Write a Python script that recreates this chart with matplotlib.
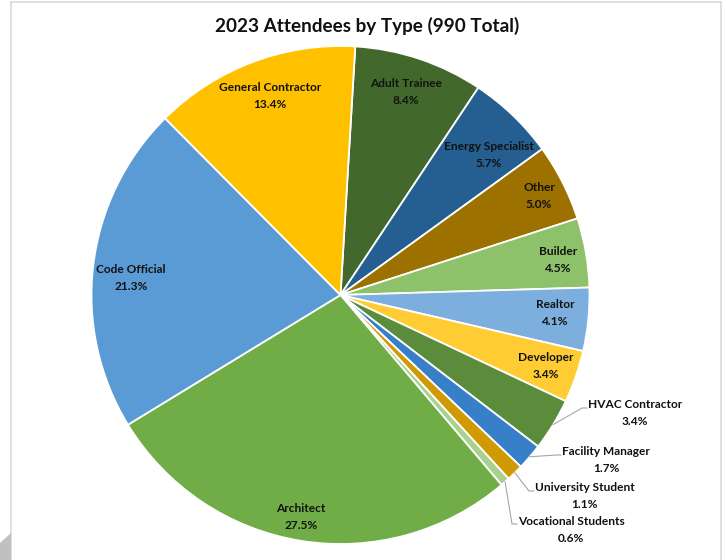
import matplotlib.pyplot as plt
from matplotlib.patches import Rectangle, Polygon
import numpy as np

plt.rcParams['font.family'] = ['Lato', 'DejaVu Sans']

# slices in clockwise order starting at the top
categories = ['Adult Trainee', 'Energy Specialist', 'Other', 'Builder', 'Realtor',
              'Developer', 'HVAC Contractor', 'Facility Manager', 'University Student',
              'Vocational Students', 'Architect', 'Code Official', 'General Contractor']
shares = [8.4, 5.7, 5.0, 4.5, 4.1, 3.4, 3.4, 1.7, 1.1, 0.6, 27.5, 21.3, 13.4]
colors = ['#43682B', '#255E91', '#9C7100', '#8DC16A', '#7CAFDD', '#FFCD33',
          '#5A8C3C', '#377FC9', '#D09A04', '#A9D18E', '#70AD47', '#5B9BD5', '#FFC000']
outside = ['HVAC Contractor', 'Facility Manager', 'University Student', 'Vocational Students']

W, H = 726, 560
cx, cy, R = 340.5, 295, 249

fig = plt.figure(figsize=(W/100, H/100), dpi=100)

# chart frame
fig.patches.append(Rectangle((11/W, -0.1), 710/W, (H - 2)/H + 0.1, transform=fig.transFigure,
                             fill=False, edgecolor='#D9D9D9', linewidth=1.2))
fig.patches.append(Polygon([(0, 17/H), (11/W, 27/H), (11/W, 0), (0, 0)], closed=True,
                           transform=fig.transFigure, facecolor='#C0C0C0', edgecolor='none'))

ax = fig.add_axes([(cx - R)/W, (H - cy - R)/H, 2*R/W, 2*R/H])
wedges, _ = ax.pie(shares, colors=colors, startangle=86.6, counterclock=False,
                   wedgeprops=dict(edgecolor='white', linewidth=1.3))
ax.set_xlim(-1, 1)
ax.set_ylim(-1, 1)
ax.axis('off')

def px(x, y):
    return (x - cx)/R, (cy - y)/R

# label layout in pixels: inside labels -> block centre
in_pos = {'Adult Trainee': (406, 92), 'Energy Specialist': (489, 155), 'Other': (539, 196),
          'Builder': (558, 260), 'Realtor': (555, 313), 'Developer': (546, 366),
          'Architect': (301, 517), 'Code Official': (131, 278),
          'General Contractor': (270, 96)}
# outside labels -> (text left edge, block centre y, leader y)
out_pos = {'HVAC Contractor': (588, 413, 408),
           'Facility Manager': (562, 460, 455),
           'University Student': (535, 496, 491),
           'Vocational Students': (518, 530, 524)}

lab_kw = dict(fontsize=8.6, fontweight='bold', color='#111111', linespacing=1.6)

for w, name, v in zip(wedges, categories, shares):
    mid = np.deg2rad((w.theta1 + w.theta2)/2)
    txt = f'{name}\n{v:.1f}%'
    if name in outside:
        lx, by, ly = out_pos[name]
        ex, ey = np.cos(mid), np.sin(mid)
        x1, y1 = px(lx - 6, ly)
        x2, _ = px(lx - 1, ly)
        ax.plot([ex, x1, x2], [ey, y1, y1], color='#A6A6A6', linewidth=0.8, clip_on=False)
        tx, ty = px(lx, by)
        ax.text(tx, ty, txt, ha='left', va='center', multialignment='center', **lab_kw)
    else:
        tx, ty = px(*in_pos[name])
        ax.text(tx, ty, txt, ha='center', va='center', **lab_kw)

fig.text(367/W, 1 - 26/H, '2023 Attendees by Type (990 Total)', ha='center', va='center',
         fontsize=13.6, fontweight='bold', color='#111111')

fig.savefig('out.png', dpi=100, facecolor='white')
